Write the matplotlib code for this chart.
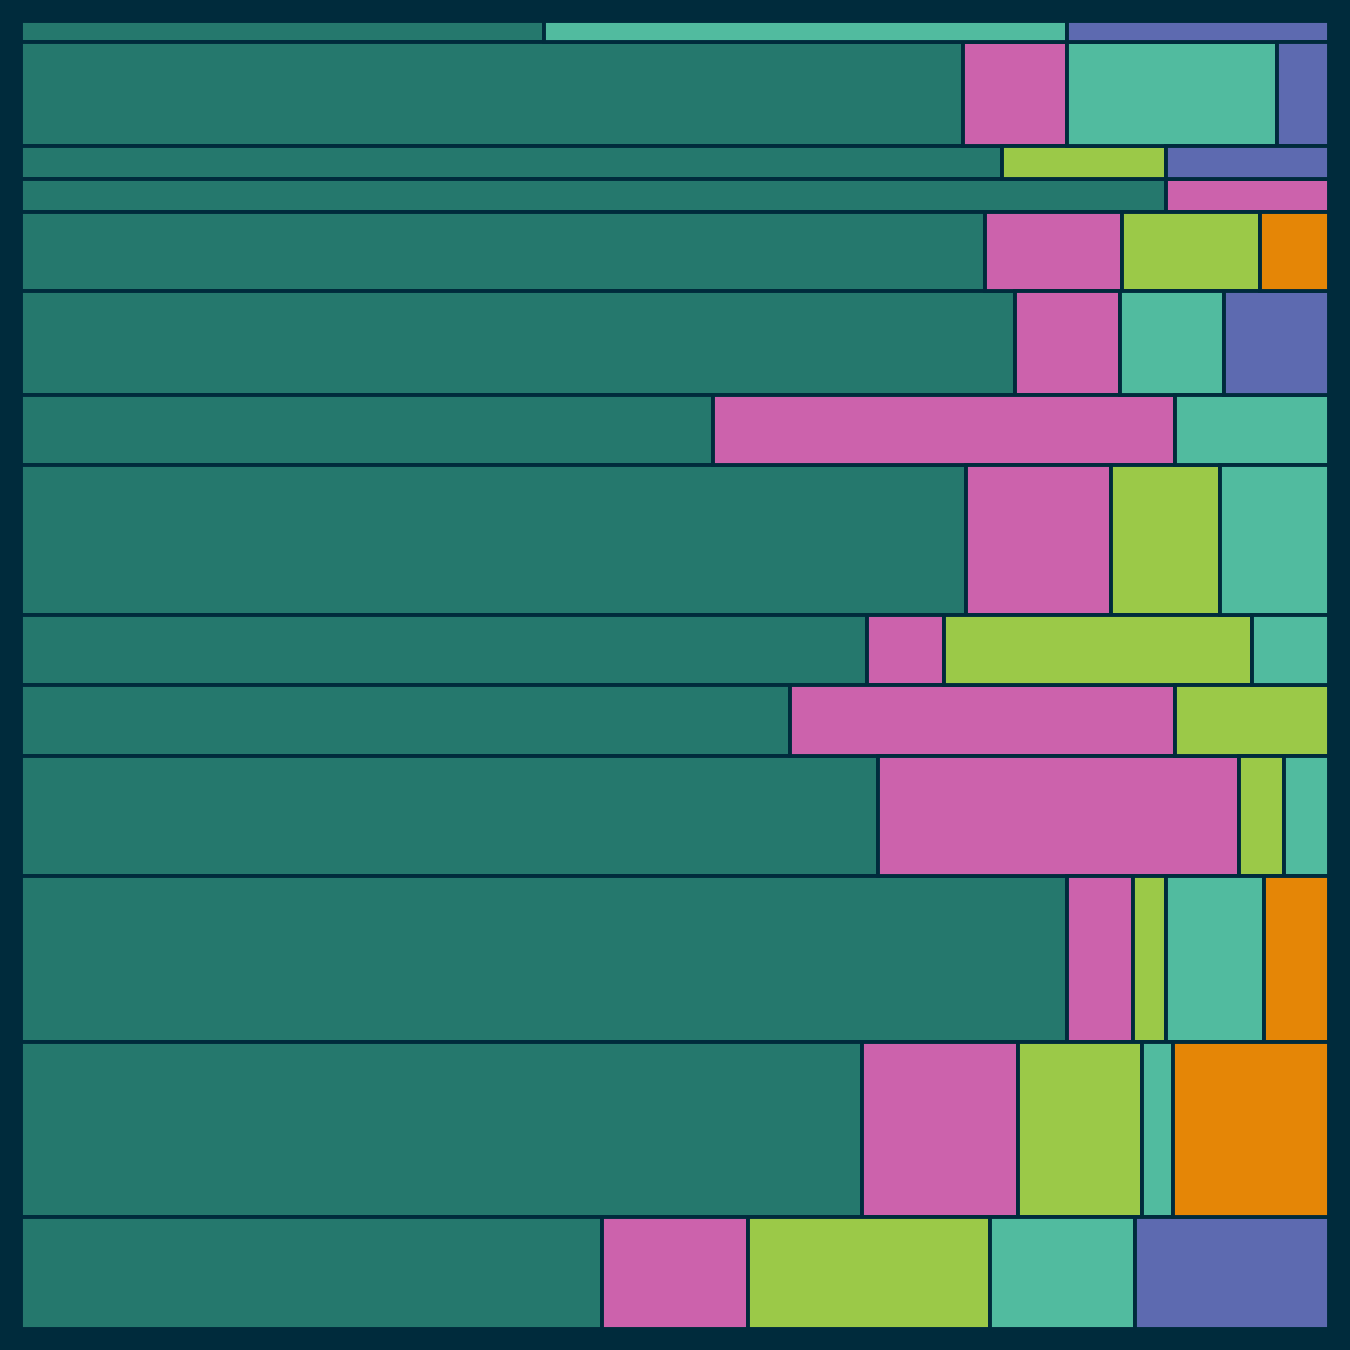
import numpy as np
import matplotlib.pyplot as plt

# counts per row (top to bottom) for each category
teal = [2, 18, 6, 7, 14, 19, 9, 26, 11, 10, 19, 32, 27, 12]
pink = [0, 2, 0, 1, 2, 2, 6, 4, 1, 5, 8, 2, 5, 3]
green = [0, 0, 1, 0, 2, 0, 0, 3, 4, 2, 1, 1, 4, 5]
mint = [2, 4, 0, 0, 0, 2, 2, 3, 1, 0, 1, 3, 1, 3]
blue = [1, 1, 1, 0, 0, 2, 0, 0, 0, 0, 0, 0, 0, 4]
orange = [0, 0, 0, 0, 1, 0, 0, 0, 0, 0, 0, 2, 5, 0]

series = [teal, pink, green, mint, blue, orange]
colors = ['#25786d', '#cc62ac', '#9bc948', '#51bb9f', '#5d6ab0', '#e58606']
bg = '#002b3c'

data = np.array(series, dtype=float)
row_tot = data.sum(axis=0)
row_top = np.concatenate([[0], np.cumsum(row_tot)[:-1]])
shares = data / row_tot

fig = plt.figure(figsize=(13.5, 13.5), dpi=100, facecolor=bg)
ax = fig.add_axes([21 / 1350, 21 / 1350, 1308 / 1350, 1308 / 1350])
ax.set_facecolor(bg)

left = np.zeros(len(row_tot))
for vals, col in zip(shares, colors):
    mask = vals > 0
    ax.barh(row_top[mask], vals[mask], height=row_tot[mask], left=left[mask],
            align='edge', color=col, edgecolor=bg, linewidth=2.8)
    left += vals

ax.set_xlim(0, 1)
ax.set_ylim(row_tot.sum(), 0)
ax.axis('off')

fig.savefig('out.png', dpi=100, facecolor=bg)
